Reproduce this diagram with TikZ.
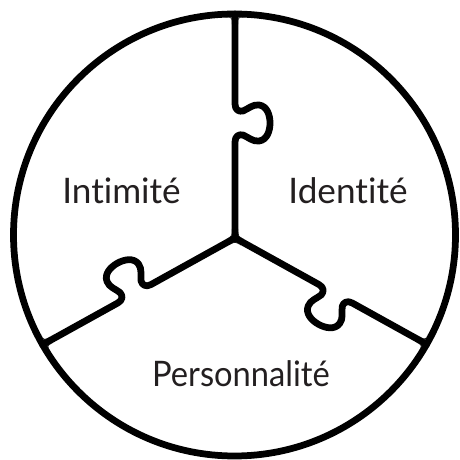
\documentclass[tikz,border=0pt]{standalone}
\usepackage{fontspec}
\usepackage{tikz}
\usetikzlibrary{calc}
\newfontfamily\puzzlefont{Lato}[Ligatures=NoCommon]
\definecolor{PzInk}{HTML}{231F20}
\tikzset{
  pieceline/.style={draw=black,line width=4.8pt},
  piecetext/.style={anchor=base,text=PzInk,font=\puzzlefont\fontsize{25}{30}\selectfont,inner sep=0pt}
}

\begin{document}
\begin{tikzpicture}[x=0.025cm,y=0.025cm,line cap=round,line join=round]
  \useasboundingbox (0,0) rectangle (460,460);

  % Outer ring.
  \draw[pieceline] (234.5,225) circle (221);

  % Three cuts from the middle, each with one tab, turned by 120 degrees.
  \foreach \ang/\len in {90/224,209/220,331/219.1}{
    \begin{scope}[shift={(235,222)},rotate=\ang]
      \draw[pieceline] (0,0) -- (96,0)
        .. controls (102,0) and (104,-4) .. (103,-8)
        .. controls (101,-13) and (96,-18) .. (97,-24)
        .. controls (98,-32) and (107,-35) .. (115,-35)
        .. controls (123,-35) and (132,-32) .. (133,-24)
        .. controls (134,-18) and (129,-13) .. (127,-8)
        .. controls (126,-4) and (128,0) .. (134,0)
        -- (\len,0);
      % rounded joint at the centre
      \fill (9,3.3) -- (60:3.8) -- (-1.64,9.44)
        .. controls (60:3.8) .. (9,3.3) -- cycle;
      % rounded joints at the ring
      \begin{scope}[shift={(\len,0)}]
        \fill (-10.3,3.3) -- (-3.3,3.3) -- (-3.6,10.3)
          .. controls (-3.3,3.3) .. (-10.3,3.3) -- cycle;
        \fill (-10.3,-3.3) -- (-3.3,-3.3) -- (-3.6,-10.3)
          .. controls (-3.3,-3.3) .. (-10.3,-3.3) -- cycle;
      \end{scope}
    \end{scope}
  }

  \node[piecetext] (intimite) at (121.5,256) {Intimité};
  \node[piecetext] (identite) at (348,256) {Identité};
  \node[piecetext,xscale=0.93] (personnalite) at (241,73) {Personnalité};
\end{tikzpicture}
\end{document}
